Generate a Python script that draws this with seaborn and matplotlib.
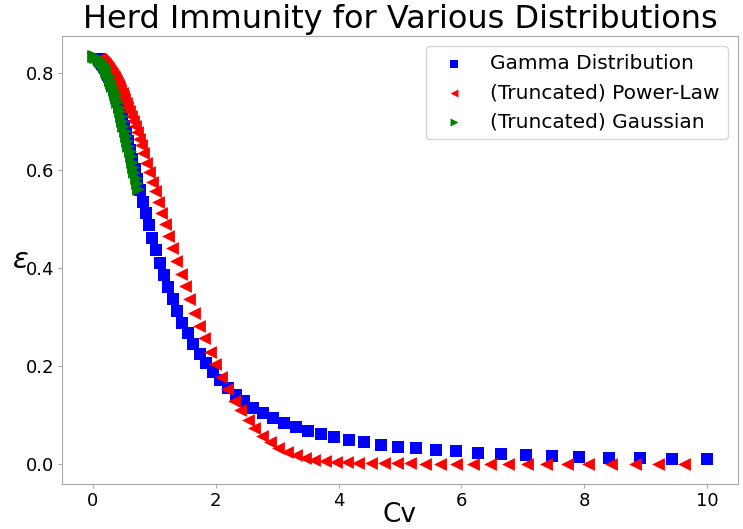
import matplotlib
matplotlib.use("Agg")
import matplotlib.pyplot as plt
import seaborn as sns

# Gamma Distribution
cv_gamma = [0.100, 0.106, 0.112, 0.119, 0.126, 0.134, 0.142, 0.150, 0.159, 0.169,
            0.179, 0.190, 0.201, 0.213, 0.226, 0.240, 0.254, 0.270, 0.286, 0.303,
            0.321, 0.340, 0.361, 0.382, 0.405, 0.430, 0.456, 0.483, 0.512, 0.543,
            0.575, 0.610, 0.646, 0.685, 0.726, 0.770, 0.816, 0.865, 0.917, 0.971,
            1.030, 1.091, 1.156, 1.225, 1.299, 1.377, 1.460, 1.547, 1.640, 1.739,
            1.843, 1.954, 2.071, 2.195, 2.327, 2.467, 2.615, 2.772, 2.939, 3.115,
            3.302, 3.500, 3.711, 3.933, 4.170, 4.420, 4.685, 4.967, 5.265, 5.581,
            5.916, 6.272, 6.648, 7.047, 7.471, 7.919, 8.395, 8.899, 9.433, 10.000]
eps_gamma = [0.8274, 0.8266, 0.8258, 0.8249, 0.8238, 0.8227, 0.8214, 0.8199, 0.8182, 0.8164,
             0.8143, 0.8120, 0.8093, 0.8064, 0.8031, 0.7995, 0.7954, 0.7908, 0.7857, 0.7800,
             0.7736, 0.7665, 0.7587, 0.7500, 0.7404, 0.7298, 0.7181, 0.7053, 0.6914, 0.6762,
             0.6598, 0.6422, 0.6232, 0.6031, 0.5818, 0.5595, 0.5362, 0.5120, 0.4873, 0.4624,
             0.4369, 0.4112, 0.3861, 0.3609, 0.3361, 0.3120, 0.2887, 0.2663, 0.2449, 0.2246,
             0.2054, 0.1874, 0.1706, 0.1550, 0.1405, 0.1272, 0.1149, 0.1037, 0.0934, 0.0841,
             0.0755, 0.0678, 0.0609, 0.0545, 0.0489, 0.0437, 0.0391, 0.0350, 0.0312, 0.0279,
             0.0249, 0.0222, 0.0198, 0.0177, 0.0158, 0.0141, 0.0125, 0.0112, 0.0100, 0.0089]

# (Truncated) Power-Law
cv_power = [0.101, 0.106, 0.111, 0.116, 0.122, 0.128, 0.134, 0.140, 0.147, 0.154,
            0.161, 0.169, 0.177, 0.185, 0.194, 0.203, 0.213, 0.223, 0.234, 0.245,
            0.257, 0.269, 0.282, 0.295, 0.309, 0.324, 0.339, 0.355, 0.372, 0.390,
            0.408, 0.428, 0.448, 0.469, 0.492, 0.515, 0.540, 0.565, 0.592, 0.620,
            0.650, 0.681, 0.713, 0.750, 0.783, 0.822, 0.875, 0.924, 0.968, 1.010,
            1.065, 1.118, 1.172, 1.227, 1.297, 1.357, 1.431, 1.502, 1.572, 1.648,
            1.734, 1.815, 1.912, 1.994, 2.091, 2.188, 2.297, 2.403, 2.524, 2.630,
            2.755, 2.885, 3.019, 3.160, 3.306, 3.452, 3.603, 3.776, 3.955, 4.133,
            4.316, 4.522, 4.737, 4.955, 5.170, 5.402, 5.656, 5.904, 6.186, 6.467,
            6.753, 7.061, 7.369, 7.710, 8.060, 8.428, 8.817, 9.195, 9.627]
eps_power = [0.8279, 0.8275, 0.8270, 0.8265, 0.8259, 0.8253, 0.8247, 0.8240, 0.8232, 0.8224,
             0.8215, 0.8205, 0.8195, 0.8184, 0.8171, 0.8158, 0.8143, 0.8127, 0.8110, 0.8091,
             0.8070, 0.8049, 0.8024, 0.7999, 0.7971, 0.7940, 0.7908, 0.7873, 0.7834, 0.7791,
             0.7747, 0.7696, 0.7643, 0.7586, 0.7521, 0.7453, 0.7378, 0.7299, 0.7211, 0.7117,
             0.7013, 0.6901, 0.678, 0.665, 0.651, 0.635, 0.615, 0.596, 0.577, 0.557,
             0.536, 0.513, 0.490, 0.466, 0.441, 0.415, 0.389, 0.363, 0.336, 0.309,
             0.282, 0.257, 0.228, 0.203, 0.177, 0.152, 0.129, 0.109, 0.090, 0.072,
             0.057, 0.044, 0.033, 0.024, 0.018, 0.012, 0.008, 0.0055, 0.004, 0.003,
             0.002, 0.0015, 0.001, 0.0007, 0.0005, 0.0003, 0.0002, 0.0001, 0.0, 0.0,
             0.0, 0.0, 0.0, 0.0, 0.0, 0.0, 0.0, 0.0, 0.0]

# (Truncated) Gaussian
cv_gauss = [0.00, 0.02, 0.04, 0.06, 0.08, 0.10, 0.12, 0.14, 0.16, 0.18,
            0.20, 0.22, 0.24, 0.26, 0.28, 0.30, 0.32, 0.34, 0.36, 0.38,
            0.40, 0.42, 0.44, 0.46, 0.48, 0.50, 0.52, 0.54, 0.56, 0.58,
            0.60, 0.62, 0.64, 0.66, 0.68, 0.70, 0.72, 0.74]
eps_gauss = [0.8333, 0.8331, 0.8324, 0.8311, 0.8294, 0.8272, 0.8245, 0.8212, 0.8176, 0.8134,
             0.8088, 0.8037, 0.7982, 0.7922, 0.7858, 0.7790, 0.7718, 0.7641, 0.7562, 0.7478,
             0.7392, 0.7302, 0.7210, 0.7115, 0.7016, 0.6916, 0.6815, 0.6711, 0.6606, 0.6500,
             0.6393, 0.6284, 0.6176, 0.6066, 0.5957, 0.5847, 0.5737, 0.5628]

sns.set_style("ticks")
plt.rcParams["axes.edgecolor"] = "#aaaaaa"
plt.rcParams["xtick.color"] = "#aaaaaa"
plt.rcParams["ytick.color"] = "#aaaaaa"
plt.rcParams["xtick.labelcolor"] = "black"
plt.rcParams["ytick.labelcolor"] = "black"
plt.rcParams["text.color"] = "black"
plt.rcParams["axes.labelcolor"] = "black"

fig, ax = plt.subplots(figsize=(7.43, 5.29), dpi=100)
fig.subplots_adjust(left=0.0834, right=0.9933, top=0.932, bottom=0.085)

sns.scatterplot(x=cv_gamma, y=eps_gamma, marker="s", color="blue", s=80,
                linewidth=0, label="Gamma Distribution", ax=ax)
sns.scatterplot(x=cv_power, y=eps_power, marker="<", color="red", s=85,
                linewidth=0, label="(Truncated) Power-Law", ax=ax)
sns.scatterplot(x=cv_gauss, y=eps_gauss, marker=">", color="green", s=85,
                linewidth=0, label="(Truncated) Gaussian", ax=ax)

ax.set_title("Herd Immunity for Various Distributions", fontsize=23, color="black")
ax.set_xlabel("Cv", fontsize=19)
ax.xaxis.set_label_coords(0.5, -0.099)
ax.xaxis.label.set_va("bottom")
ax.set_ylabel(r"$\varepsilon$", fontsize=21, rotation=0, ha="center", va="center")
ax.yaxis.set_label_coords(-0.062, 0.5)
ax.set_xticks([0, 2, 4, 6, 8, 10])
ax.tick_params(labelsize=13, length=3, pad=2.5)
for side in ["top", "right", "left", "bottom"]:
    ax.spines[side].set_visible(True)

ax.legend(loc="upper right", fontsize=14.5, markerscale=0.62, frameon=True)

fig.savefig("out.png", dpi=100)
